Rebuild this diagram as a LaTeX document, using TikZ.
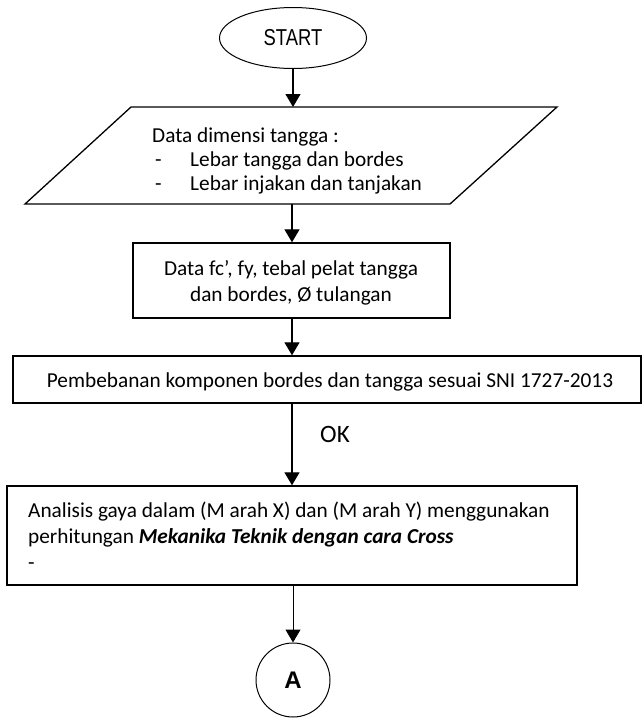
\documentclass[tikz,border=0pt]{standalone}
\usepackage{fontspec}
\setmainfont{Carlito}
\newfontfamily\startfont[FakeStretch=0.8]{Liberation Sans}
\newfontfamily\arialfont{Liberation Sans}
\usetikzlibrary{arrows.meta,shapes.geometric}
\begin{document}
\begin{tikzpicture}[x=1pt,y=-1pt,
  box/.style={draw, rectangle, line width=1.4pt, inner sep=0pt},
  arr/.style={-{Triangle[length=13pt,width=15pt]}, line width=1.3pt},
  txt/.style={font=\fontsize{21.3}{26}\selectfont, inner sep=0pt},
  lbl/.style={txt, anchor=base west},
  clbl/.style={txt, anchor=base}]
\useasboundingbox (0,0) rectangle (642,718);
% START
\node[draw, ellipse, line width=1pt, minimum width=147pt, minimum height=61pt,
      font=\startfont\fontsize{23}{26}\selectfont] (start) at (293,38) {START};
% parallelogram
\draw[line width=1.3pt] (25,204) -- (131,107) -- (557,107) -- (450,204) -- cycle;
\coordinate (ptop) at (293,107);
\coordinate (pbot) at (292,204);
\node[lbl] (p1) at (152,142) {Data dimensi tangga :};
\node[lbl] (p2a) at (155,166) {-};
\node[lbl] (p2) at (190,166) {Lebar tangga dan bordes};
\node[lbl] (p3a) at (155,190) {-};
\node[lbl] (p3) at (190,190) {Lebar injakan dan tanjakan};
% box 1
\node[box, minimum width=317pt, minimum height=75pt] (b1) at (291.5,280.5) {};
\node[clbl] (b1t1) at (291,275) {Data fc’, fy, tebal pelat tangga};
\node[clbl] (b1t2) at (291,301) {dan bordes, Ø tulangan};
% box 2
\node[box, minimum width=628pt, minimum height=47pt] (b2) at (327,379.5) {};
\node[clbl] (b2t) at (330,387) {Pembebanan komponen bordes dan tangga sesuai SNI 1727-2013};
% box 3
\node[box, minimum width=570pt, minimum height=99pt] (b3) at (292,535.5) {};
\node[lbl] (b3t1) at (28,517) {Analisis gaya dalam (M arah X) dan (M arah Y) menggunakan};
\node[lbl] (b3t2) at (28,543) {perhitungan \textbf{\textit{Mekanika Teknik dengan cara Cross}}};
\node[lbl] (b3t3) at (28,569) {-};
% connector A
\node[draw, circle, line width=1pt, minimum size=74pt, inner sep=0pt,
      font=\arialfont\bfseries\fontsize{24}{26}\selectfont] (a) at (293,680) {A};
% arrows
\draw[arr] (start.south) -- (ptop);
\draw[arr] (pbot) -- (b1.north -| pbot);
\draw[arr] (b1.south -| pbot) -- (b2.north -| pbot);
\draw[arr] (b2.south -| pbot) -- (b3.north -| pbot);
\node[lbl, font=\fontsize{25}{28}\selectfont] (ok) at (320,442) {OK};
\draw[arr, line width=1pt] (b3.south -| a) -- (a.north);
\end{tikzpicture}
\end{document}
